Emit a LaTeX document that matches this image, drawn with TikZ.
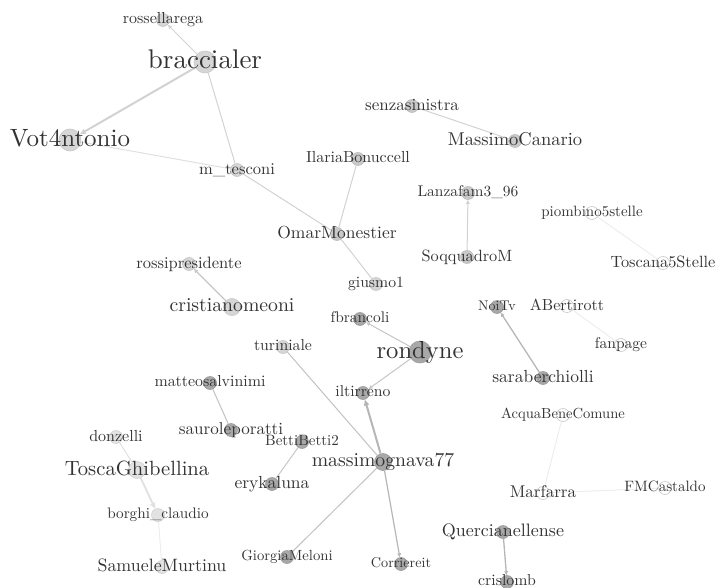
\documentclass[tikz,border=0pt]{standalone}
\usepackage{fontspec}
\setmainfont{lmroman10-regular.otf}
\usetikzlibrary{arrows.meta}
\newcommand\fsz[1]{\fontsize{#1}{#1}\selectfont}
\definecolor{txt}{HTML}{333333}
\definecolor{vlf}{HTML}{E2E2E2}\definecolor{vld}{HTML}{D2D2D2}
\definecolor{ltf}{HTML}{D6D6D6}\definecolor{ltd}{HTML}{C6C6C6}
\definecolor{mdf}{HTML}{C9C9C9}\definecolor{mdd}{HTML}{BBBBBB}
\definecolor{dkf}{HTML}{A8A8A8}\definecolor{dkd}{HTML}{9C9C9C}
\definecolor{wtd}{HTML}{C8C8C8}
\definecolor{edgeA}{HTML}{D2D2D2}\definecolor{edgeB}{HTML}{B6B6B6}
\definecolor{edgeC}{HTML}{EDEDED}\definecolor{edgeD}{HTML}{E0E0E0}
\tikzset{
  nd/.style={circle, inner sep=0pt, minimum size=#1, line width=0.6pt},
  vl/.style={fill=vlf, draw=vld},
  lt/.style={fill=ltf, draw=ltd},
  md/.style={fill=mdf, draw=mdd},
  dk/.style={fill=dkf, draw=dkd},
  wt/.style={fill=white, draw=wtd},
  lbl/.style={anchor=base, inner sep=0pt, text=txt, font=\fsz{#1}, yshift={-0.25pt*#1}},
  lw/.style={line width=#1},
  ar/.style={-{Triangle[length=6pt,width=5pt]}},
  sar/.style={-{Triangle[length=4pt,width=3.5pt]}}
}
\begin{document}
\begin{tikzpicture}[x=1pt,y=-1pt]
\useasboundingbox (0,0) rectangle (722,588);
% nodes (circles)
\node[nd=13,lt] (rossellarega) at (163,20) {};
\node[nd=22,lt] (braccialer) at (205,62) {};
\node[nd=22,lt] (Vot4ntonio) at (70,140) {};
\node[nd=13,lt] (mtesconi) at (237,170) {};
\node[nd=13,md] (senzasinistra) at (412,106) {};
\node[nd=13,md] (MassimoCanario) at (515,141) {};
\node[nd=13,md] (IlariaBonuccell) at (358,159) {};
\node[nd=13,md] (Lanzafam) at (468,193) {};
\node[nd=13,md] (OmarMonestier) at (337,234) {};
\node[nd=13,md] (SoqquadroM) at (467,257) {};
\node[nd=13,wt] (piombino) at (592,213) {};
\node[nd=13,wt] (Toscana5Stelle) at (663,263) {};
\node[nd=13,dk] (NoiTv) at (497,307) {};
\node[nd=13,wt] (ABertirott) at (567,306) {};
\node[nd=13,wt] (fanpage) at (621,345) {};
\node[nd=13,dk] (saraberchiolli) at (543,378) {};
\node[nd=13,lt] (rossipresidente) at (189,264) {};
\node[nd=17,lt] (cristianomeoni) at (232,307) {};
\node[nd=13,lt] (giusmo1) at (376,284) {};
\node[nd=13,dk] (fbrancoli) at (360,319) {};
\node[nd=13,lt] (turiniale) at (283,347) {};
\node[nd=22,dk] (rondyne) at (420,352) {};
\node[nd=13,dk] (iltirreno) at (363,393) {};
\node[nd=13,dk] (matteosalvinimi) at (210,383) {};
\node[nd=13,dk] (sauroleporatti) at (231,430) {};
\node[nd=13,dk] (BettiBetti2) at (302,442) {};
\node[nd=13,dk] (erykaluna) at (272,484) {};
\node[nd=17,dk] (massimognava77) at (383,462) {};
\node[nd=13,dk] (GiorgiaMeloni) at (287,557) {};
\node[nd=13,dk] (Corriereit) at (401,564) {};
\node[nd=13,wt] (AcquaBeneComune) at (563,415) {};
\node[nd=13,wt] (Marfarra) at (543,493) {};
\node[nd=13,wt] (FMCastaldo) at (665,488) {};
\node[nd=13,dk] (Quercianellense) at (503,532) {};
\node[nd=13,dk] (crislomb) at (507,582) {};
\node[nd=13,vl] (donzelli) at (116,437) {};
\node[nd=17,vl] (ToscaGhibellina) at (137,470) {};
\node[nd=13,vl] (borghiclaudio) at (158,515) {};
\node[nd=13,vl] (SamueleMurtinu) at (162,567) {};
% edges
\draw[edgeA,lw=2pt,ar] (braccialer) -- (Vot4ntonio);
\draw[edgeA,lw=1pt,sar] (braccialer) -- (rossellarega);
\draw[edgeA,lw=1pt] (braccialer) -- (mtesconi);
\draw[edgeD,lw=1pt] (Vot4ntonio) -- (mtesconi);
\draw[edgeA,lw=1pt] (mtesconi) -- (OmarMonestier);
\draw[edgeA,lw=1pt] (OmarMonestier) -- (IlariaBonuccell);
\draw[edgeA,lw=1pt] (OmarMonestier) -- (giusmo1);
\draw[edgeA,lw=1pt] (senzasinistra) -- (MassimoCanario);
\draw[edgeA,lw=1pt,sar] (SoqquadroM) -- (Lanzafam);
\draw[edgeC,lw=1pt] (piombino) -- (Toscana5Stelle);
\draw[edgeC,lw=1pt] (ABertirott) -- (fanpage);
\draw[edgeB,lw=1.3pt,sar] (saraberchiolli) -- (NoiTv);
\draw[ltd,lw=1.3pt,sar] (cristianomeoni) -- (rossipresidente);
\draw[edgeB!80,lw=1pt,sar] (rondyne) -- (fbrancoli);
\draw[edgeB!80,lw=1pt,sar] (rondyne) -- (iltirreno);
\draw[edgeB,lw=2pt,ar] (massimognava77) -- (iltirreno);
\draw[edgeB!85,lw=1pt] (massimognava77) -- (turiniale);
\draw[edgeB!85,lw=1pt] (massimognava77) -- (GiorgiaMeloni);
\draw[edgeB,lw=1.2pt,sar] (massimognava77) -- (Corriereit);
\draw[edgeB!85,lw=1pt] (matteosalvinimi) -- (sauroleporatti);
\draw[ltd,lw=1pt] (BettiBetti2) -- (erykaluna);
\draw[edgeD,lw=1pt] (donzelli) -- (ToscaGhibellina);
\draw[edgeD,lw=1.8pt,ar] (ToscaGhibellina) -- (borghiclaudio);
\draw[edgeC,lw=1pt] (borghiclaudio) -- (SamueleMurtinu);
\draw[edgeC,lw=1pt] (AcquaBeneComune) -- (Marfarra);
\draw[edgeC,lw=1pt] (Marfarra) -- (FMCastaldo);
\draw[edgeB,lw=1.3pt,sar] (Quercianellense) -- (crislomb);
% labels
\node[lbl=16] (t1) at (rossellarega) {rossellarega};
\node[lbl=27] (t2) at (braccialer) {braccialer};
\node[lbl=25] (t3) at (Vot4ntonio) {Vot4ntonio};
\node[lbl=16.5] (t4) at (mtesconi) {m\_tesconi};
\node[lbl=17] (t5) at (senzasinistra) {senzasinistra};
\node[lbl=18.5] (t6) at (MassimoCanario) {MassimoCanario};
\node[lbl=16] (t7) at (IlariaBonuccell) {IlariaBonuccell};
\node[lbl=15.5] (t8) at (Lanzafam) {Lanzafam3\_96};
\node[lbl=17.5] (t9) at (OmarMonestier) {OmarMonestier};
\node[lbl=16.3] (t10) at (SoqquadroM) {SoqquadroM};
\node[lbl=15] (t11) at (piombino) {piombino5stelle};
\node[lbl=16.3] (t12) at (Toscana5Stelle) {Toscana5Stelle};
\node[lbl=14] (t13) at (NoiTv) {NoiTv};
\node[lbl=16] (t14) at (ABertirott) {ABertirott};
\node[lbl=15.5] (t15) at (fanpage) {fanpage};
\node[lbl=17.5] (t16) at (saraberchiolli) {saraberchiolli};
\node[lbl=16.5] (t17) at (rossipresidente) {rossipresidente};
\node[lbl=19.7] (t18) at (cristianomeoni) {cristianomeoni};
\node[lbl=15.7] (t19) at (giusmo1) {giusmo1};
\node[lbl=15.4] (t20) at (fbrancoli) {fbrancoli};
\node[lbl=15.8] (t21) at (turiniale) {turiniale};
\node[lbl=24.6] (t22) at (rondyne) {rondyne};
\node[lbl=15.7] (t23) at (iltirreno) {iltirreno};
\node[lbl=15.9] (t24) at (matteosalvinimi) {matteosalvinimi};
\node[lbl=17.1] (t25) at (sauroleporatti) {sauroleporatti};
\node[lbl=15] (t26) at (BettiBetti2) {BettiBetti2};
\node[lbl=17.5] (t27) at (erykaluna) {erykaluna};
\node[lbl=19.7] (t28) at (massimognava77) {massimognava77};
\node[lbl=14.7] (t29) at (GiorgiaMeloni) {GiorgiaMeloni};
\node[lbl=14.2] (t30) at (Corriereit) {Corriereit};
\node[lbl=14.6] (t31) at (AcquaBeneComune) {AcquaBeneComune};
\node[lbl=17] (t32) at (Marfarra) {Marfarra};
\node[lbl=15] (t33) at (FMCastaldo) {FMCastaldo};
\node[lbl=18] (t34) at (Quercianellense) {Quercianellense};
\node[lbl=15.8] (t35) at (crislomb) {crislomb};
\node[lbl=16] (t36) at (donzelli) {donzelli};
\node[lbl=20.6] (t37) at (ToscaGhibellina) {ToscaGhibellina};
\node[lbl=15.2] (t38) at (borghiclaudio) {borghi\_claudio};
\node[lbl=17.9] (t39) at (SamueleMurtinu) {SamueleMurtinu};
\end{tikzpicture}
\end{document}
